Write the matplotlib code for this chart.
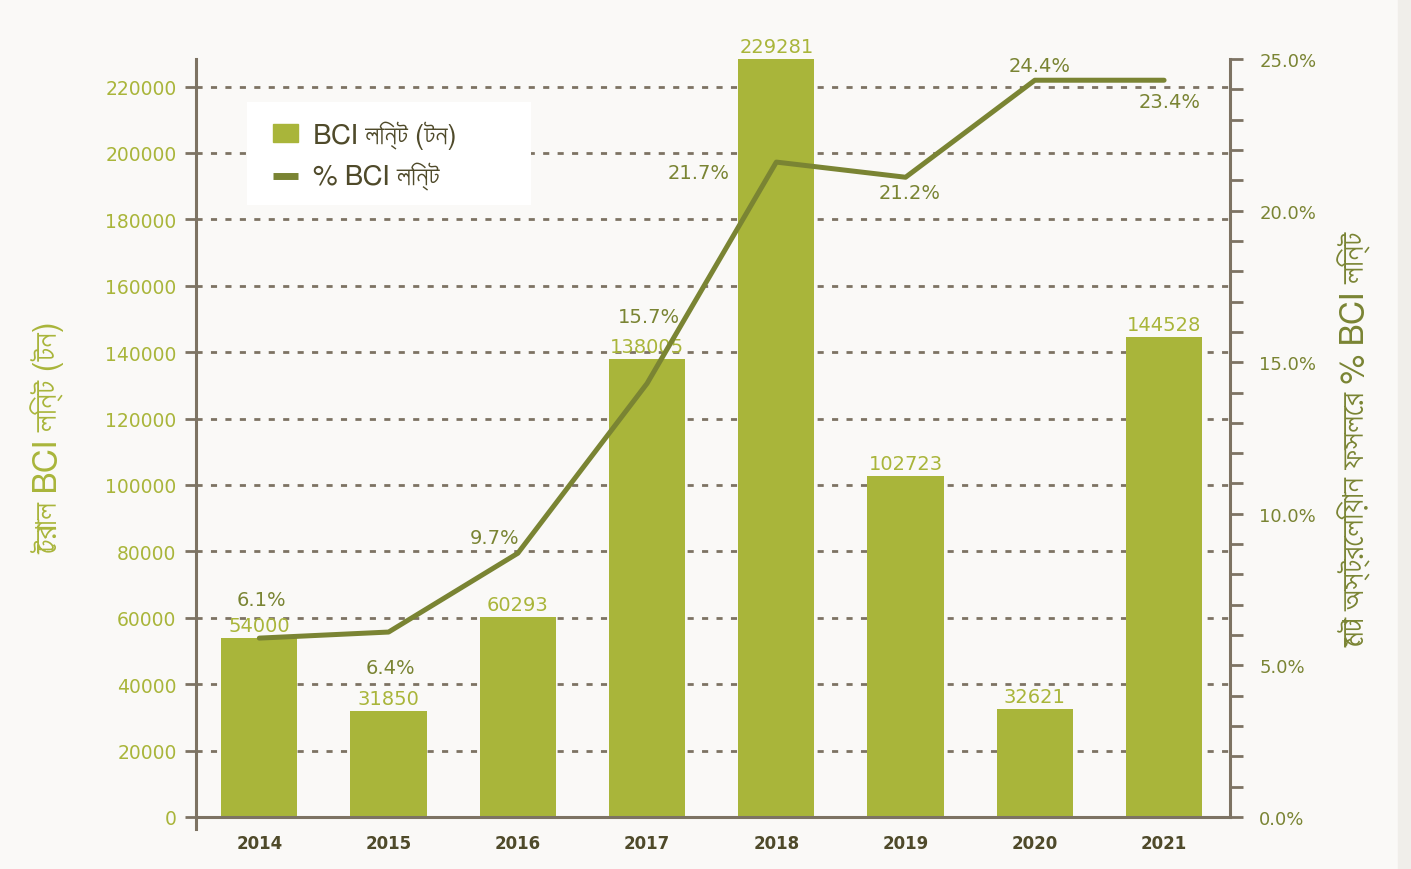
import matplotlib
matplotlib.use("Agg")
import matplotlib.pyplot as plt
from matplotlib import font_manager
from matplotlib.patches import Patch, Rectangle
from matplotlib.lines import Line2D
from matplotlib.ticker import MultipleLocator, FuncFormatter
import numpy as np

# 数据
years = ["2014", "2015", "2016", "2017", "2018", "2019", "2020", "2021"]
lint_tonnes = [54000, 31850, 60293, 138005, 229281, 102723, 32621, 144528]
pct_line = [5.9, 6.1, 8.7, 14.3, 21.6, 21.1, 24.3, 24.3]  # 线条在图中的位置
pct_labels = ["6.1%", "6.4%", "9.7%", "15.7%", "21.7%", "21.2%", "24.4%", "23.4%"]

left_label = "টোরাল BCI লিন্ট (টন)"
right_label = "মোট অস্ট্রেলিয়ান ফসলের % BCI লিন্ট"
legend_labels = ["BCI লিন্ট (টন)", "% BCI লিন্ট"]

# 找一个能显示孟加拉文的字体
bn_font = None
for f in font_manager.fontManager.ttflist:
    n = f.name
    if any(k in n for k in ["Bengali", "Lohit", "Mukti", "Kalpurush", "Siliguri", "FreeSerif", "FreeSans", "Akaash", "Likhan"]):
        bn_font = n
        break
num_fams = ["DejaVu Sans"]
bn_fams = ([bn_font] if bn_font else []) + ["DejaVu Sans"]
plt.rcParams["font.family"] = num_fams

bar_c = "#a9b53a"
line_c = "#7a8433"
axis_c = "#7d7363"
dark_c = "#4f4a2a"
bg = "#faf9f7"

fig = plt.figure(figsize=(14.11, 8.70), dpi=100, facecolor=bg)
fig.patches.append(Rectangle((1398 / 1411, 0), 13 / 1411, 1, transform=fig.transFigure,
                             color="#f0eeea", zorder=-1))
ax = fig.add_axes([196 / 1411, 52 / 870, 1034 / 1411, 758 / 870])
ax.set_facecolor("none")
ax2 = ax.twinx()

x = np.arange(len(years))
ytop = 228300

# 网格线
for v in range(20000, 220001, 20000):
    ax.axhline(v, color=axis_c, lw=2, dashes=(2.2, 3), zorder=0)

bars = ax.bar(x, lint_tonnes, width=0.59, color=bar_c, zorder=2)
for xi, v in zip(x, lint_tonnes):
    ax.annotate(str(v), (xi, min(v, ytop)), xytext=(0, 3), textcoords="offset pixels",
                ha="center", va="bottom", color=bar_c, fontsize=14, zorder=5,
                annotation_clip=False)

ax.set_xlim(-0.49, 7.51)
ax.set_ylim(0, ytop)
ax.set_yticks(range(0, 220001, 20000))
ax.set_xticks(x)
ax.set_xticklabels(years)
ax.tick_params(axis="y", colors=axis_c, labelcolor=bar_c, labelsize=13.5, length=8, width=2, pad=6)
ax.tick_params(axis="x", length=0, labelcolor=dark_c, labelsize=12, pad=12)
for t in ax.get_xticklabels():
    t.set_fontweight("bold")

for s in ["top", "right"]:
    ax.spines[s].set_visible(False)
ax.spines["left"].set_color(axis_c)
ax.spines["left"].set_linewidth(2.2)
ax.spines["left"].set_bounds(-3600, ytop)
ax.spines["bottom"].set_color(axis_c)
ax.spines["bottom"].set_linewidth(2.2)

ax.set_ylabel(left_label, color=bar_c, fontsize=24, labelpad=28, family=bn_fams)

# 百分比折线
ax2.plot(x, pct_line, color=line_c, lw=3.6, solid_capstyle="round", zorder=4)
offsets = [(2, 39), (2, -35), (-23, 16), (2, 67), (-78, -10), (4, -15), (5, 15), (6, -21)]
for xi, v, lab, (dx, dy) in zip(x, pct_line, pct_labels, offsets):
    ax2.annotate(lab, (xi, v), xytext=(dx, dy), textcoords="offset pixels",
                 ha="center", va="center", color=line_c, fontsize=14, zorder=6,
                 annotation_clip=False)

ax2.set_ylim(0, 25)
ax2.yaxis.set_major_locator(MultipleLocator(5))
ax2.yaxis.set_minor_locator(MultipleLocator(1))
ax2.yaxis.set_major_formatter(FuncFormatter(lambda v, p: f"{v:.1f}%"))
ax2.tick_params(axis="y", which="both", length=9, width=2, color=axis_c,
                labelcolor=line_c, labelsize=13, pad=12)
for s in ["top", "left", "bottom"]:
    ax2.spines[s].set_visible(False)
ax2.spines["right"].set_color(axis_c)
ax2.spines["right"].set_linewidth(2.2)
ax2.set_ylabel(right_label, color=line_c, fontsize=24, labelpad=16, rotation=90,
               family=bn_fams)

# 图例白色背景框
ax2.add_patch(Rectangle((0.0493, 0.8074), 0.2747, 0.1359, transform=ax2.transAxes,
                        facecolor="white", edgecolor="none", zorder=9))
handles = [Patch(color=bar_c), Line2D([], [], color=line_c, lw=5, solid_capstyle="butt")]
leg = ax2.legend(handles, legend_labels, loc="upper left", bbox_to_anchor=(0.05, 0.952),
                 frameon=False, prop={"family": bn_fams, "size": 20}, labelcolor=dark_c,
                 handlelength=0.9, handleheight=0.6, handletextpad=0.55,
                 borderpad=0.9, labelspacing=0.5, borderaxespad=0)
leg.set_zorder(10)

fig.savefig("out.png", dpi=100, facecolor=bg)
